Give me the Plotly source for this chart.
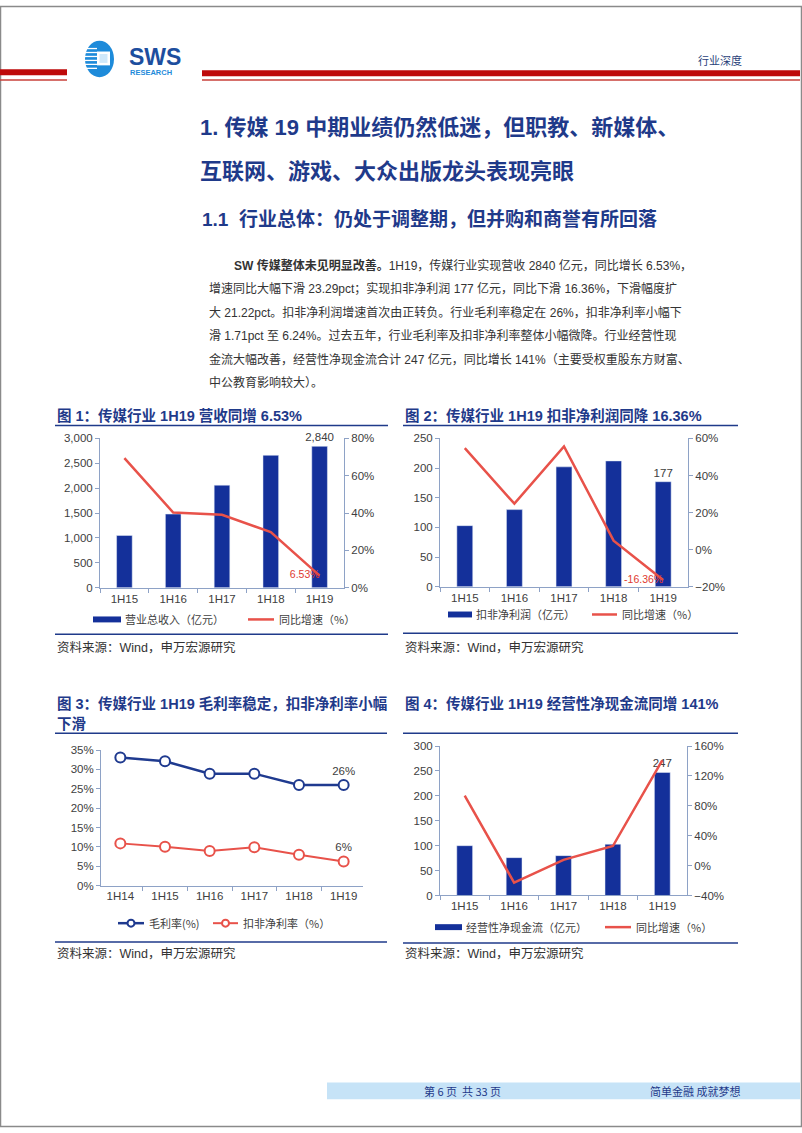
import plotly.graph_objects as go

W, H = 802, 1133

# ---------------- data ----------------
periods_a = ["1H15", "1H16", "1H17", "1H18", "1H19"]
revenue = [1050, 1480, 2060, 2660, 2840]            # 营业总收入（亿元）
revenue_growth = [69.4, 40.3, 39.1, 29.82, 6.53]     # 同比增速（%）
profit = [103, 130, 202, 212, 177]                  # 扣非净利润（亿元）
profit_growth = [54.7, 24.8, 55.7, 4.86, -16.36]     # 同比增速（%）
periods_b = ["1H14", "1H15", "1H16", "1H17", "1H18", "1H19"]
gross_margin = [33.1, 32.1, 28.9, 28.9, 26.0, 26.0]  # 毛利率(%)
net_margin = [10.9, 10.0, 8.9, 9.9, 7.95, 6.24]      # 扣非净利率（%）
cashflow = [100, 76, 80, 103, 247]                  # 经营性净现金流（亿元）
cashflow_growth = [93.8, -22.8, 7.7, 26.2, 141.0]    # 同比增速（%）

# ---------------- style ----------------
FONT = "Liberation Sans, Noto Sans CJK SC, sans-serif"
CJK = "Noto Sans CJK SC, Liberation Sans, sans-serif"
NAVY = "#1F3A8A"
BAR = "#14309A"
RED = "#E8524A"
LBLUE = "#1F3A8F"
AX = "#8EA2C6"
TICKC = "#404040"
BODY = "#333333"


def px(x):
    return x / W


def py(y):
    return 1 - y / H


def last_only(vals, fmt):
    return [""] * (len(vals) - 1) + [fmt.format(vals[-1])]


fig = go.Figure()

# Chart 1
fig.add_trace(go.Bar(x=periods_a, y=revenue, xaxis="x", yaxis="y", marker_color=BAR,
                     width=0.32, text=last_only(revenue, "{:,}"), textposition="outside",
                     constraintext="none",
                     textfont=dict(size=11.5, color=TICKC, family=FONT), cliponaxis=False))
fig.add_trace(go.Scatter(x=periods_a, y=revenue_growth, xaxis="x", yaxis="y2",
                         mode="lines+text", line=dict(color=RED, width=2.5),
                         text=last_only(revenue_growth, "{:.2f}%"), textposition="middle left",
                         textfont=dict(size=10.5, color="#E03A30", family=FONT), cliponaxis=False))
# Chart 2
fig.add_trace(go.Bar(x=periods_a, y=profit, xaxis="x2", yaxis="y3", marker_color=BAR,
                     width=0.32, text=last_only(profit, "{}"), textposition="outside",
                     constraintext="none",
                     textfont=dict(size=11.5, color=TICKC, family=FONT), cliponaxis=False))
fig.add_trace(go.Scatter(x=periods_a, y=profit_growth, xaxis="x2", yaxis="y4",
                         mode="lines+text", line=dict(color=RED, width=2.5),
                         text=last_only(profit_growth, "{:.2f}%"), textposition="middle left",
                         textfont=dict(size=10.5, color="#E03A30", family=FONT), cliponaxis=False))
# Chart 3
fig.add_trace(go.Scatter(x=periods_b, y=gross_margin, xaxis="x3", yaxis="y5",
                         mode="lines+markers+text", line=dict(color=LBLUE, width=2.5),
                         marker=dict(symbol="circle", size=10, color="white",
                                     line=dict(color=LBLUE, width=2)),
                         text=last_only(gross_margin, "{:.0f}%"), textposition="top center",
                         textfont=dict(size=11.5, color=TICKC, family=FONT), cliponaxis=False))
fig.add_trace(go.Scatter(x=periods_b, y=net_margin, xaxis="x3", yaxis="y5",
                         mode="lines+markers+text", line=dict(color=RED, width=2),
                         marker=dict(symbol="circle", size=10, color="white",
                                     line=dict(color=RED, width=2)),
                         text=last_only(net_margin, "{:.0f}%"), textposition="top center",
                         textfont=dict(size=11.5, color=TICKC, family=FONT), cliponaxis=False))
# Chart 4
fig.add_trace(go.Bar(x=periods_a, y=cashflow, xaxis="x4", yaxis="y6", marker_color=BAR,
                     width=0.32, text=last_only(cashflow, "{}"), textposition="outside",
                     constraintext="none",
                     textfont=dict(size=11.5, color=TICKC, family=FONT), cliponaxis=False))
fig.add_trace(go.Scatter(x=periods_a, y=cashflow_growth, xaxis="x4", yaxis="y7",
                         mode="lines", line=dict(color=RED, width=2.5), cliponaxis=False))


def xax(x0, x1, anchor):
    return dict(domain=[px(x0), px(x1)], anchor=anchor, type="category", showline=True,
                linecolor=AX, linewidth=1, ticks="outside", ticklen=4, tickcolor=AX,
                tickson="boundaries", showgrid=False, zeroline=False, fixedrange=True,
                tickfont=dict(size=11.5, color=TICKC, family=FONT))


def yax(top, bottom, rng, dtick, anchor, side="left", overlaying=None, suffix="", fmt=None):
    d = dict(domain=[py(bottom), py(top)], anchor=anchor, side=side, range=rng, dtick=dtick,
             tick0=rng[0], showline=True, linecolor=AX, linewidth=1, ticks="outside",
             ticklen=4, tickcolor=AX, showgrid=False, zeroline=False, fixedrange=True,
             ticksuffix=suffix, tickfont=dict(size=11.5, color=TICKC, family=FONT))
    if overlaying:
        d["overlaying"] = overlaying
    if fmt:
        d["tickformat"] = fmt
    return d


shapes = []


def rect(x0, y0, x1, y1, color, line=None):
    shapes.append(dict(type="rect", xref="paper", yref="paper", x0=px(x0), x1=px(x1),
                       y0=py(y1), y1=py(y0), fillcolor=color,
                       line=dict(width=0) if line is None else line, layer="above"))


def hline(x0, x1, y, color, width):
    shapes.append(dict(type="line", xref="paper", yref="paper", x0=px(x0), x1=px(x1),
                       y0=py(y), y1=py(y), line=dict(color=color, width=width)))


def circ(cx, cy, r, fill, color, width):
    shapes.append(dict(type="circle", xref="paper", yref="paper", x0=px(cx - r), x1=px(cx + r),
                       y0=py(cy + r), y1=py(cy - r), fillcolor=fill,
                       line=dict(color=color, width=width)))


annotations = []


def txt(x, y, s, size, color=BODY, anchor="left", family=CJK):
    annotations.append(dict(x=px(x), y=py(y), xref="paper", yref="paper", text=s,
                            showarrow=False, xanchor=anchor, yanchor="middle",
                            font=dict(size=size, color=color, family=family)))


# page frame
shapes.append(dict(type="rect", xref="paper", yref="paper", x0=px(0.5), x1=px(801.5),
                   y0=py(1132.5), y1=py(0.5), line=dict(color="#8a8a8a", width=1.5)))

# header bars
rect(0, 64, 67, 70, "#BE0A0A")
rect(0, 74, 67, 75.5, "#C8403A")
rect(202, 65, 800, 71, "#BE0A0A")
rect(202, 74, 800, 75.5, "#C8403A")

# logo
shapes.append(dict(type="circle", xref="paper", yref="paper", x0=px(85), x1=px(114),
                   y0=py(72), y1=py(35), fillcolor="#1E8BDA", line=dict(width=0)))
rect(97, 46, 110, 60, "white")
rect(99.5, 48.5, 107.5, 57.5, "#CFE8FA")
for sy in [43, 47, 51, 55, 59, 63]:
    hline(84, 97, sy, "white", 1.3)
txt(127, 52, "<b>SWS</b>", 23, "#1D4E9E", family="Liberation Sans, sans-serif")
txt(128, 67, "<b>RESEARCH</b>", 7.5, "#1E8BDA", family="Liberation Sans Narrow, Liberation Sans, sans-serif")
txt(696, 55, "行业深度", 11, "#2A3F7A")

# headings
txt(198, 123, "<b>1. 传媒 19 中期业绩仍然低迷，但职教、新媒体、</b>", 22, NAVY, family=FONT)
txt(198, 167, "<b>互联网、游戏、大众出版龙头表现亮眼</b>", 22, NAVY, family=FONT)
txt(200, 215, "<b>1.1  行业总体：仍处于调整期，但并购和商誉有所回落</b>", 19, NAVY, family=FONT)

para = [
    (232, "<b>SW 传媒整体未见明显改善。</b>1H19，传媒行业实现营收 2840 亿元，同比增长 6.53%，"),
    (207, "增速同比大幅下滑 23.29pct；实现扣非净利润 177 亿元，同比下滑 16.36%，下滑幅度扩"),
    (207, "大 21.22pct。扣非净利润增速首次由正转负。行业毛利率稳定在 26%，扣非净利率小幅下"),
    (207, "滑 1.71pct 至 6.24%。过去五年，行业毛利率及扣非净利率整体小幅微降。行业经营性现"),
    (207, "金流大幅改善，经营性净现金流合计 247 亿元，同比增长 141%（主要受权重股东方财富、"),
    (207, "中公教育影响较大）。"),
]
for i, (x0, line) in enumerate(para):
    txt(x0, 262 + i * 23.7, line, 12, BODY, family=FONT)

# chart titles + rules
txt(55, 414, "<b>图 1：传媒行业 1H19 营收同增 6.53%</b>", 14.5, NAVY, family=FONT)
hline(55, 388, 424, NAVY, 1.5)
txt(403, 414, "<b>图 2：传媒行业 1H19 扣非净利润同降 16.36%</b>", 14.5, NAVY, family=FONT)
hline(403, 738, 424, NAVY, 1.5)
txt(55, 705, "<b>图 3：传媒行业 1H19 毛利率稳定，扣非净利率小幅</b>", 14.5, NAVY, family=FONT)
txt(55, 726, "<b>下滑</b>", 14.5, NAVY, family=FONT)
hline(55, 387, 735, NAVY, 1.5)
txt(403, 705, "<b>图 4：传媒行业 1H19 经营性净现金流同增 141%</b>", 14.5, NAVY, family=FONT)
hline(403, 738, 735, NAVY, 1.5)

# legends
LEG = 11
rect(93, 617, 121, 623, BAR)
txt(123, 620, "营业总收入（亿元）", LEG, TICKC)
hline(248, 274, 620, RED, 2.5)
txt(277, 620, "同比增速（%）", LEG, TICKC)

rect(448, 612, 472, 618, BAR)
txt(474, 615, "扣非净利润（亿元）", LEG, TICKC)
hline(592, 617, 615, RED, 2.5)
txt(620, 615, "同比增速（%）", LEG, TICKC)

hline(118, 144, 927, LBLUE, 2.5)
circ(131, 927, 3.5, "white", LBLUE, 2)
txt(147, 927, "毛利率(%)", LEG, TICKC)
hline(213, 238, 927, RED, 2)
circ(225.5, 927, 3.5, "white", RED, 2)
txt(241, 927, "扣非净利率（%）", LEG, TICKC)

rect(435, 928, 462, 934, BAR)
txt(464, 931, "经营性净现金流（亿元）", LEG, TICKC)
hline(605, 631, 931, RED, 2.5)
txt(634, 931, "同比增速（%）", LEG, TICKC)

# source rules + notes
hline(55, 388, 635, NAVY, 1.5)
txt(55, 648, "资料来源：Wind，申万宏源研究", 12.5, BODY, family=FONT)
hline(403, 738, 634, NAVY, 1.5)
txt(403, 648, "资料来源：Wind，申万宏源研究", 12.5, BODY, family=FONT)
hline(55, 387, 946, NAVY, 1.5)
txt(55, 958, "资料来源：Wind，申万宏源研究", 12.5, BODY, family=FONT)
hline(403, 738, 947, NAVY, 1.5)
txt(403, 958, "资料来源：Wind，申万宏源研究", 12.5, BODY, family=FONT)

# footer
rect(327, 1088, 800, 1105, "#C6E3F7")
txt(462, 1097, "第 6 页  共 33 页", 11, NAVY, anchor="center")
txt(695, 1097, "简单金融 成就梦想", 11, NAVY, anchor="center")

fig.update_layout(
    width=W, height=H, margin=dict(l=0, r=0, t=0, b=0),
    paper_bgcolor="white", plot_bgcolor="white", showlegend=False,
    font=dict(family=FONT, color=TICKC),
    xaxis=xax(100, 344, "y"),
    yaxis=yax(437, 588, [0, 3000], 500, "x", fmt=",d"),
    yaxis2=yax(437, 588, [0, 80], 20, "x", side="right", overlaying="y", suffix="%"),
    xaxis2=xax(440, 688, "y3"),
    yaxis3=yax(437, 587, [0, 250], 50, "x2"),
    yaxis4=yax(437, 587, [-20, 60], 20, "x2", side="right", overlaying="y3", suffix="%"),
    xaxis3=xax(101, 363, "y5"),
    yaxis5=yax(752, 889, [0, 35], 5, "x3", suffix="%"),
    xaxis4=xax(440, 687, "y6"),
    yaxis6=yax(748, 899, [0, 300], 50, "x4"),
    yaxis7=yax(748, 899, [-40, 160], 40, "x4", side="right", overlaying="y6", suffix="%"),
    shapes=shapes, annotations=annotations,
)

fig.write_html("out.html")
